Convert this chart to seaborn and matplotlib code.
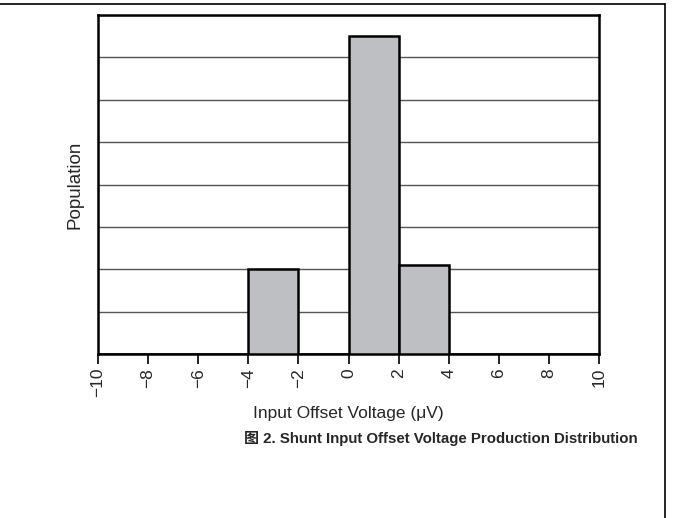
import matplotlib
matplotlib.use("Agg")
import matplotlib.pyplot as plt
from matplotlib.lines import Line2D
import seaborn as sns
import numpy as np

# Data
bin_edges = [-10, -8, -6, -4, -2, 0, 2, 4, 6, 8, 10]
counts = [0, 0, 0, 2.0, 0, 7.5, 2.1, 0, 0, 0]
xtick_values = [-10, -8, -6, -4, -2, 0, 2, 4, 6, 8, 10]
xtick_labels = ["\u221210", "\u22128", "\u22126", "\u22124", "\u22122", "0", "2", "4", "6", "8", "10"]
x_label = "Input Offset Voltage (\u03bcV)"
y_label = "Population"
caption = "图 2. Shunt Input Offset Voltage Production Distribution"

sns.set_theme(style="white")
plt.rcParams['font.family'] = ['Liberation Sans', 'Noto Sans CJK SC', 'DejaVu Sans']

fig = plt.figure(figsize=(6.73, 5.18), dpi=100)
ax = fig.add_axes([98/673, 1-354/518, (599-98)/673, (354-15)/518])

centers = [(bin_edges[i] + bin_edges[i+1]) / 2 for i in range(len(counts))]
sns.histplot(x=centers, weights=counts, bins=bin_edges, ax=ax,
             color="#BEBFC3", edgecolor="black", linewidth=1.8, alpha=1, zorder=3)

ax.set_xlim(-10, 10)
ax.set_ylim(0, 8)
ax.set_yticks(np.arange(0, 9, 1))
ax.set_yticklabels([])
ax.tick_params(axis='y', length=0)
ax.grid(axis='y', color='#555555', linewidth=1.0, zorder=0)
ax.grid(axis='x', visible=False)
ax.set_axisbelow(True)

ax.set_xticks(xtick_values)
ax.set_xticklabels(xtick_labels, rotation=90, fontsize=12.5)
ax.tick_params(axis='x', length=7, width=1.2, color='black', direction='out', bottom=True, pad=3)

for s in ax.spines.values():
    s.set_color('black')
    s.set_linewidth(1.8)
    s.set_visible(True)

ax.set_xlabel(x_label, fontsize=12.5, labelpad=6)
ax.set_ylabel(y_label, fontsize=13.5, labelpad=7)

# Document frame lines
fig.add_artist(Line2D([0, 665/673], [1-4/518, 1-4/518], color='black', linewidth=1.2, transform=fig.transFigure))
fig.add_artist(Line2D([665/673, 665/673], [1-4/518, 0], color='black', linewidth=1.2, transform=fig.transFigure))

fig.text(441/673, 1-438/518, caption, ha='center', va='center', fontsize=10.8, fontweight='bold')

fig.savefig("out.png", dpi=100)
